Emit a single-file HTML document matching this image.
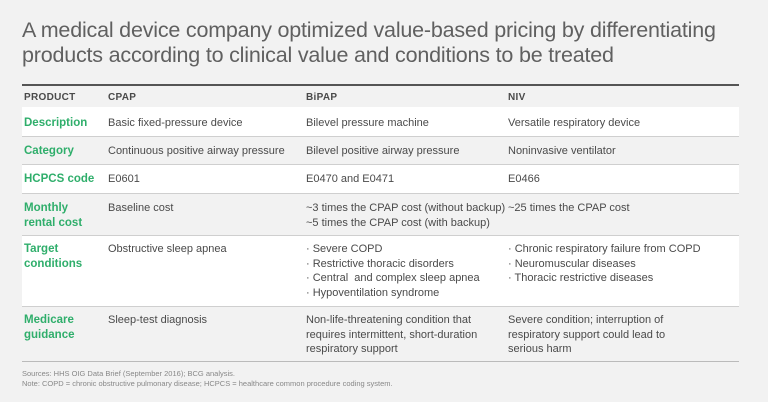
<!DOCTYPE html>
<html><head><meta charset="utf-8"><style>
body{margin:0;width:768px;height:402px;background:#f2f2f2;font-family:"Liberation Sans",sans-serif;position:relative;overflow:hidden;color:#444}
.t{position:absolute;left:22px;top:18px;font-size:21.5px;line-height:25px;color:#606060;letter-spacing:-0.2px}
.row{position:absolute;left:22px;width:717px;border-bottom:1px solid #cfcfcf}
.w{background:#fff}
.c{position:absolute;font-size:11px;line-height:14.5px;color:#4a4a4a;white-space:nowrap}
.l{color:#2fae6b;font-weight:bold;font-size:11.5px}
.h{font-weight:bold;font-size:10px;color:#4a4a4a;letter-spacing:0.3px}
.n{position:absolute;left:22px;font-size:7.5px;color:#888;line-height:10px}
</style></head><body>
<div class="t">A medical device company optimized value-based pricing by differentiating<br>products according to clinical value and conditions to be treated</div>
<div style="position:absolute;left:22px;top:84px;width:717px;height:2px;background:#555"></div>
<div class="row" style="top:86px;height:21px"></div>
<div class="row w" style="top:107px;height:29px"></div>
<div class="row" style="top:137px;height:27px"></div>
<div class="row w" style="top:165px;height:28px"></div>
<div class="row" style="top:194px;height:41px"></div>
<div class="row w" style="top:236px;height:70px"></div>
<div class="row" style="top:307px;height:54px;border-bottom-color:#bbb"></div>

<div class="c h" style="left:24px;top:91px">PRODUCT</div>
<div class="c h" style="left:108px;top:91px">CPAP</div>
<div class="c h" style="left:306px;top:91px">BiPAP</div>
<div class="c h" style="left:508px;top:91px">NIV</div>

<div class="c l" style="left:24px;top:116px">Description</div>
<div class="c" style="left:108px;top:116px">Basic fixed-pressure device</div>
<div class="c" style="left:306px;top:116px">Bilevel pressure machine</div>
<div class="c" style="left:508px;top:116px">Versatile respiratory device</div>

<div class="c l" style="left:24px;top:144px">Category</div>
<div class="c" style="left:108px;top:144px">Continuous positive airway pressure</div>
<div class="c" style="left:306px;top:144px">Bilevel positive airway pressure</div>
<div class="c" style="left:508px;top:144px">Noninvasive ventilator</div>

<div class="c l" style="left:24px;top:172px">HCPCS code</div>
<div class="c" style="left:108px;top:172px">E0601</div>
<div class="c" style="left:306px;top:172px">E0470 and E0471</div>
<div class="c" style="left:508px;top:172px">E0466</div>

<div class="c l" style="left:24px;top:201px">Monthly<br>rental cost</div>
<div class="c" style="left:108px;top:201px">Baseline cost</div>
<div class="c" style="left:306px;top:201px">~3 times the CPAP cost (without backup)<br>~5 times the CPAP cost (with backup)</div>
<div class="c" style="left:508px;top:201px">~25 times the CPAP cost</div>

<div class="c l" style="left:24px;top:242px">Target<br>conditions</div>
<div class="c" style="left:108px;top:242px">Obstructive sleep apnea</div>
<div class="c" style="left:306px;top:242px">· Severe COPD<br>· Restrictive thoracic disorders<br>· Central&nbsp; and complex sleep apnea<br>· Hypoventilation syndrome</div>
<div class="c" style="left:508px;top:242px">· Chronic respiratory failure from COPD<br>· Neuromuscular diseases<br>· Thoracic restrictive diseases</div>

<div class="c l" style="left:24px;top:313px">Medicare<br>guidance</div>
<div class="c" style="left:108px;top:313px">Sleep-test diagnosis</div>
<div class="c" style="left:306px;top:313px">Non-life-threatening condition that<br>requires intermittent, short-duration<br>respiratory support</div>
<div class="c" style="left:508px;top:313px">Severe condition; interruption of<br>respiratory support could lead to<br>serious harm</div>

<div class="n" style="top:369px">Sources: HHS OIG Data Brief (September 2016); BCG analysis.</div>
<div class="n" style="top:379px">Note: COPD = chronic obstructive pulmonary disease; HCPCS = healthcare common procedure coding system.</div>
</body></html>
